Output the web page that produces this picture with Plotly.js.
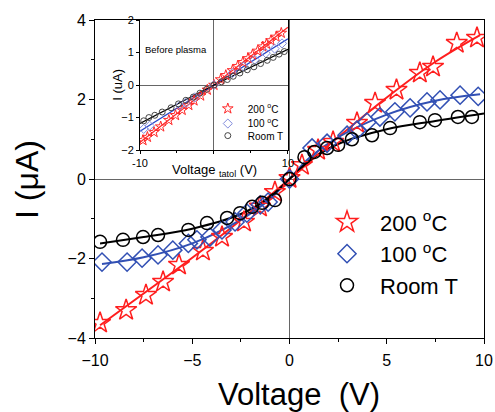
<!DOCTYPE html>
<html>
<head>
<meta charset="utf-8">
<script src="https://cdn.plot.ly/plotly-3.0.1.min.js"></script>
<style>html,body{margin:0;padding:0;background:#fff;}#chart{width:495px;height:412px;}</style>
</head>
<body>
<div id="chart"></div>
<script>
// ---- Main panel: measured points ----
const red200X = [-9.74,-8.4,-7.38,-6.5,-5.68,-4.45,-3.47,-2.34,-1.52,-0.75,0,0.64,1.47,2.24,3.47,4.4,5.5,6.7,7.38,8.6,9.64];
const red200Y = [-3.62,-3.3,-2.92,-2.59,-2.16,-1.81,-1.46,-1.08,-0.70,-0.33,0.02,0.35,0.73,0.93,1.41,1.91,2.24,2.67,2.82,3.42,3.55];
const blue100X = [-9.64,-8.35,-7.58,-6.76,-6.0,-5.2,-4.76,-4.09,-3.47,-2.8,-2.19,-1.5,-1.1,0,1.16,1.93,2.96,3.47,3.98,4.65,5.42,6.2,7.07,7.74,8.77,9.7];
const blue100Y = [-2.09,-2.09,-1.99,-1.91,-1.79,-1.62,-1.53,-1.46,-1.28,-1.08,-0.86,-0.65,-0.58,0,0.78,0.9,1.1,1.23,1.43,1.56,1.69,1.79,1.94,1.99,2.11,2.08];
const roomX = [-9.74,-8.56,-7.53,-6.76,-5.2,-4.24,-3.21,-2.54,-1.92,-1.41,-0.75,0,0.77,1.28,1.93,2.5,3.21,4.24,5.17,6.7,7.48,8.66,9.38];
const roomY = [-1.58,-1.53,-1.46,-1.41,-1.28,-1.11,-0.98,-0.86,-0.70,-0.60,-0.53,0,0.55,0.68,0.78,0.86,1.0,1.1,1.28,1.43,1.48,1.56,1.56];
// ---- Main panel: fitted curves ----
const fitRedX = [-9.74,-7.5,-5,-2.5,0,2.5,5,7.5,9.8];
const fitRedY = [-3.68,-2.88,-1.98,-1.03,0,1.05,2.05,2.95,3.62];
const fitBlueX = [-9.64,-7.5,-5,-2.5,-1,0,1,2.5,5,7.5,9.8];
const fitBlueY = [-2.14,-1.97,-1.62,-1.02,-0.5,0,0.52,1.05,1.62,1.97,2.13];
const fitRoomX = [-9.74,-7.5,-5,-2.5,-1,0,1,2.5,5,7.5,10];
const fitRoomY = [-1.62,-1.46,-1.25,-0.88,-0.45,0,0.45,0.88,1.25,1.46,1.65];
// ---- Inset (before plasma) ----
const inRedX = [-9.6,-9.0,-8.1,-7.2,-6.1,-5.2,-4.3,-3.4,-2.7,-1.8,-0.9,0,0.9,1.6,2.5,3.2,3.9,4.6,5.2,5.9,6.6,7.1,7.7,8.4,9.1];
const inRedY = [-1.70,-1.60,-1.45,-1.28,-1.08,-0.93,-0.77,-0.62,-0.48,-0.33,-0.15,0,0.17,0.30,0.45,0.58,0.70,0.82,0.93,1.05,1.18,1.26,1.37,1.48,1.60];
const inBlueX = [-9.5,-8.7,-4.6,-3.8,-2.6,0,2.5,4.0,5.5,7.0,8.2,9.2];
const inBlueY = [-1.35,-1.25,-0.63,-0.55,-0.38,0,0.37,0.57,0.78,0.98,1.12,1.28];
const inRoomX = [-9.5,-8.8,-8.0,-7.0,-5.8,-4.8,-3.8,-2.8,-1.9,-1.0,0,1.0,1.8,2.6,3.5,4.5,5.4,6.3,7.2,8.0,8.8,9.5];
const inRoomY = [-1.10,-1.00,-0.93,-0.83,-0.70,-0.58,-0.47,-0.37,-0.25,-0.13,0,0.10,0.17,0.27,0.37,0.47,0.56,0.66,0.76,0.85,0.95,1.03];
const inFitX = [-10,0,10];
const inFitRedY = [-1.76,0,1.78];
const inFitBlueY = [-1.42,0,1.42];
const inFitRoomY = [-1.18,0,1.10];
const inXTickVals = [-10,0,10];
const inXTickText = ['-10','','10'];

const labels = ['200 <sup>o</sup>C','100 <sup>o</sup>C','Room T'];
const RED = 'rgb(255,30,30)', BLUE = 'rgb(50,80,180)', BLK = 'rgb(0,0,0)';

const traces = [
  {x: fitRedX, y: fitRedY, mode:'lines', line:{color:RED,width:2,shape:'spline'}, showlegend:false, hoverinfo:'skip'},
  {x: fitBlueX, y: fitBlueY, mode:'lines', line:{color:BLUE,width:2,shape:'spline'}, showlegend:false, hoverinfo:'skip'},
  {x: fitRoomX, y: fitRoomY, mode:'lines', line:{color:BLK,width:2,shape:'spline'}, showlegend:false, hoverinfo:'skip'},
  {x: red200X, y: red200Y, mode:'markers', name: labels[0], marker:{symbol:'star-open', size:16, color:RED, line:{color:RED,width:1.5}}},
  {x: blue100X, y: blue100Y, mode:'markers', name: labels[1], marker:{symbol:'diamond-open', size:14, color:BLUE, line:{color:BLUE,width:1.5}}},
  {x: roomX, y: roomY, mode:'markers', name: labels[2], marker:{symbol:'circle-open', size:13, color:BLK, line:{color:BLK,width:1.5}}},
  // inset
  {x: inFitX, y: inFitRedY, xaxis:'x2', yaxis:'y2', mode:'lines', line:{color:'rgb(255,40,40)',width:1.3}, showlegend:false},
  {x: inFitX, y: inFitBlueY, xaxis:'x2', yaxis:'y2', mode:'lines', line:{color:'rgb(40,70,200)',width:1.3}, showlegend:false},
  {x: inFitX, y: inFitRoomY, xaxis:'x2', yaxis:'y2', mode:'lines', line:{color:'rgb(0,0,0)',width:1.3}, showlegend:false},
  {x: inRedX, y: inRedY, xaxis:'x2', yaxis:'y2', mode:'markers', name: labels[0], legend:'legend2', marker:{symbol:'star-open', size:8, color:'rgb(255,40,40)', line:{color:'rgb(255,40,40)',width:1}}},
  {x: inBlueX, y: inBlueY, xaxis:'x2', yaxis:'y2', mode:'markers', name: labels[1], legend:'legend3', marker:{symbol:'diamond-open', size:7, color:'rgb(130,140,220)', line:{color:'rgb(130,140,220)',width:1}}},
  {x: inRoomX, y: inRoomY, xaxis:'x2', yaxis:'y2', mode:'markers', name: labels[2], legend:'legend4', marker:{symbol:'circle-open', size:6, color:'rgb(70,70,70)', line:{color:'rgb(70,70,70)',width:1}}}
];

const FONT = 'Liberation Sans, Arial, sans-serif';
const axBase = {showgrid:false, showline:true, mirror:true, linecolor:'#000', linewidth:1, ticks:'outside', tickcolor:'#000', zeroline:true, zerolinecolor:'#666', zerolinewidth:1};
const insetLegend = (y) => ({x:0.29, y:y, xanchor:'left', yanchor:'top', bgcolor:'rgba(0,0,0,0)', font:{size:10, family:FONT}});

const layout = {
  width:495, height:412,
  margin:{l:95, r:11, t:20, b:74},
  paper_bgcolor:'#fff', plot_bgcolor:'#fff',
  font:{family:FONT, color:'#000'},
  xaxis: Object.assign({}, axBase, {domain:[0,1], range:[-10,10], tickvals:[-10,-5,0,5,10], ticklen:5, ticklabelstandoff:3, tickfont:{size:16, family:FONT},
    minor:{dtick:2.5, ticks:'outside', ticklen:3, tickcolor:'#000'}}),
  yaxis: Object.assign({}, axBase, {domain:[0,1], range:[-4,4], tickvals:[-4,-2,0,2,4], ticklen:5, tickfont:{size:16, family:FONT},
    minor:{dtick:1, ticks:'outside', ticklen:3, tickcolor:'#000'}}),
  xaxis2: Object.assign({}, axBase, {domain:[0.1157,0.496], anchor:'y2', range:[-10,10], tickvals:inXTickVals, ticktext:inXTickText, ticklen:3, tickfont:{size:11, family:FONT},
    minor:{dtick:5, ticks:'outside', ticklen:2, tickcolor:'#000'}}),
  yaxis2: Object.assign({}, axBase, {domain:[0.591,1], anchor:'x2', range:[-2,2], tickvals:[-2,-1,0,1,2], ticklen:3, tickfont:{size:11, family:FONT}}),
  legend: {x:0.563, y:0.43, xanchor:'left', yanchor:'top', itemwidth:56, bgcolor:'rgba(0,0,0,0)', font:{size:22, family:FONT}},
  legend2: insetLegend(0.767),
  legend3: insetLegend(0.720),
  legend4: insetLegend(0.682),
  annotations: [
    {xref:'paper', yref:'paper', x:-0.175, y:0.5, xanchor:'center', yanchor:'middle', text:'I (μA)', textangle:-90, showarrow:false, font:{size:32, family:FONT}},
    {xref:'paper', yref:'paper', x:0.524, y:-0.179, xanchor:'center', yanchor:'middle', text:'Voltage&nbsp; (V)', showarrow:false, font:{size:31, family:FONT}},
    {xref:'paper', yref:'paper', x:0.306, y:0.528, xanchor:'center', yanchor:'middle', text:'Voltage <sub>tatol</sub> (V)', showarrow:false, font:{size:13, family:FONT}},
    {xref:'paper', yref:'paper', x:0.058, y:0.795, xanchor:'center', yanchor:'middle', text:'I (uA)', textangle:-90, showarrow:false, font:{size:13, family:FONT}},
    {xref:'x2', yref:'y2', x:-5.1, y:1.1, xanchor:'center', yanchor:'middle', text:'Before plasma', showarrow:false, font:{size:9.5, family:FONT}}
  ]
};

Plotly.newPlot('chart', traces, layout, {displayModeBar:false, staticPlot:true});
</script>
</body>
</html>
